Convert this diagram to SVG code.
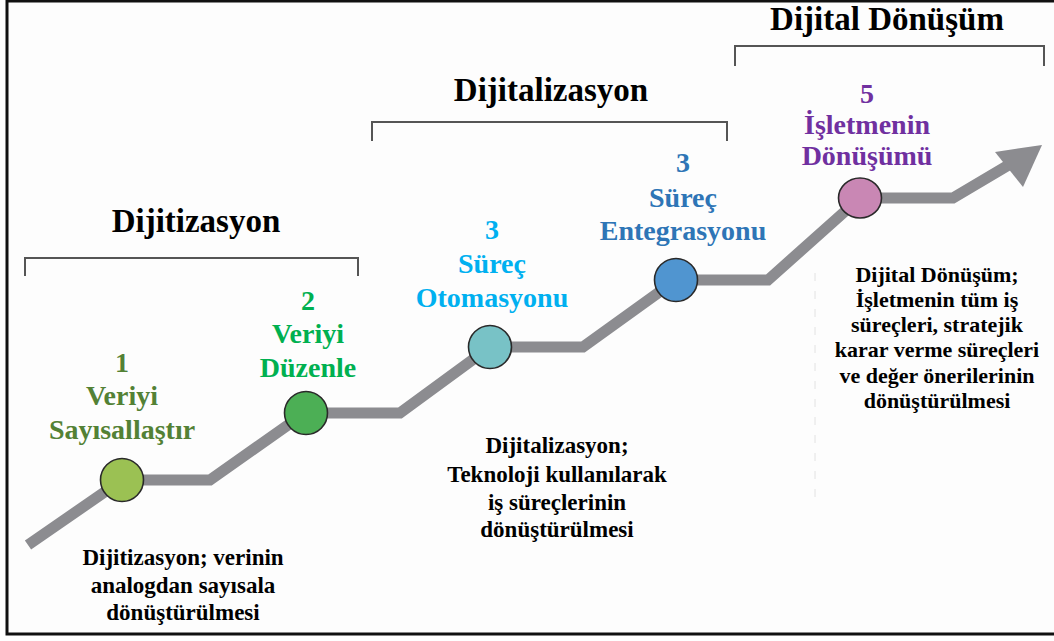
<svg xmlns="http://www.w3.org/2000/svg" width="1054" height="641" viewBox="0 0 1054 641">
  <style>
    .title { font-family: "Liberation Serif", "Times New Roman", serif; font-weight: bold; font-size: 33px; fill: #000; text-anchor: middle; }
    .lbl { font-family: "Liberation Serif", "Times New Roman", serif; font-weight: bold; font-size: 28px; text-anchor: middle; }
    .desc { font-family: "Liberation Serif", "Times New Roman", serif; font-weight: bold; font-size: 23px; fill: #000; text-anchor: middle; }
    .desc3 { font-size: 22px; }
    .bracket { fill: none; stroke: #555; stroke-width: 2; }
    .node { stroke: #2a2a2a; stroke-width: 1.6; }
  </style>
  <rect x="0" y="0" width="1054" height="641" fill="#ffffff"/>
  <rect x="7" y="1" width="1060" height="633" fill="#fdfdfd" stroke="#111" stroke-width="3"/>

  <g id="brackets">
    <path class="bracket" d="M25,276 V258 H358 V276"/>
    <path class="bracket" d="M372,141 V122 H727 V141"/>
    <path class="bracket" d="M735,66 V46 H1044 V66"/>
  </g>

  <g id="titles">
    <text class="title" x="196" y="232">Dijitizasyon</text>
    <text class="title" x="551" y="101">Dijitalizasyon</text>
    <text class="title" x="887" y="30">Dijital Dönüşüm</text>
  </g>

  <g id="connectors">
    <path d="M28,545 L122,480 L210,480 L305,413 L400,413 L490,347 L583,347 L676,280 L768,280 L860,198 L953,198 L1012,163" fill="none" stroke="#8c8c90" stroke-width="11" stroke-linejoin="miter"/>
    <polygon points="1042,145 995,152 1023,187" fill="#8c8c90"/>
  </g>

  <line x1="815" y1="273" x2="815" y2="505" stroke="#e2e2e2" stroke-width="1" stroke-dasharray="8 10"/>

  <g id="node1">
    <circle class="node" cx="122" cy="480" r="21.5" fill="#9bc153"/>
    <text class="lbl" x="122" y="372" fill="#538135">1</text>
    <text class="lbl" x="122" y="405" fill="#538135">Veriyi</text>
    <text class="lbl" x="122" y="439" fill="#538135">Sayısallaştır</text>
  </g>
  <g id="node2">
    <circle class="node" cx="306" cy="413" r="21.5" fill="#4caf55"/>
    <text class="lbl" x="308" y="310" fill="#00b050">2</text>
    <text class="lbl" x="308" y="343" fill="#00b050">Veriyi</text>
    <text class="lbl" x="308" y="377" fill="#00b050">Düzenle</text>
  </g>
  <g id="node3">
    <circle class="node" cx="490" cy="347" r="21.5" fill="#78c2c6"/>
    <text class="lbl" x="492" y="239" fill="#00b0f0">3</text>
    <text class="lbl" x="492" y="273" fill="#00b0f0">Süreç</text>
    <text class="lbl" x="492" y="307" fill="#00b0f0">Otomasyonu</text>
  </g>
  <g id="node4">
    <circle class="node" cx="676" cy="280" r="21.5" fill="#5095d0"/>
    <text class="lbl" x="683" y="172" fill="#2e75b6">3</text>
    <text class="lbl" x="683" y="207" fill="#2e75b6">Süreç</text>
    <text class="lbl" x="683" y="240" fill="#2e75b6">Entegrasyonu</text>
  </g>
  <g id="node5">
    <ellipse class="node" cx="860" cy="198" rx="21.5" ry="20" fill="#c987b4"/>
    <text class="lbl" x="867" y="103" fill="#7030a0">5</text>
    <text class="lbl" x="867" y="134" fill="#7030a0">İşletmenin</text>
    <text class="lbl" x="867" y="165" fill="#7030a0">Dönüşümü</text>
  </g>

  <g id="desc1">
    <text class="desc" x="183" y="565">Dijitizasyon; verinin</text>
    <text class="desc" x="183" y="593">analogdan sayısala</text>
    <text class="desc" x="183" y="620">dönüştürülmesi</text>
  </g>
  <g id="desc2">
    <text class="desc" x="557" y="453">Dijitalizasyon;</text>
    <text class="desc" x="557" y="482">Teknoloji kullanılarak</text>
    <text class="desc" x="557" y="510">iş süreçlerinin</text>
    <text class="desc" x="557" y="537">dönüştürülmesi</text>
  </g>
  <g id="desc3">
    <text class="desc desc3" x="937" y="282">Dijital Dönüşüm;</text>
    <text class="desc desc3" x="937" y="307">İşletmenin tüm iş</text>
    <text class="desc desc3" x="937" y="332">süreçleri, stratejik</text>
    <text class="desc desc3" x="937" y="357">karar verme süreçleri</text>
    <text class="desc desc3" x="937" y="383">ve değer önerilerinin</text>
    <text class="desc desc3" x="937" y="408">dönüştürülmesi</text>
  </g>
</svg>
